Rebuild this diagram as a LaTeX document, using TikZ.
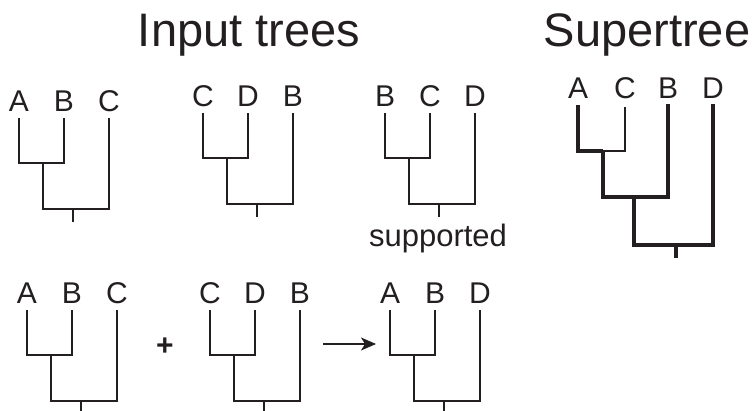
\documentclass[tikz,border=0pt]{standalone}
\usepackage{fontspec}
\setmainfont{Liberation Sans}
\usetikzlibrary{arrows.meta}
\definecolor{ink}{HTML}{231F20}

% A rooted three-taxon tree: #1 name, #2 left leaf x, #3 leaf top y, #4-#6 leaf labels
\newcommand\threetree[6]{%
  \coordinate (#1-l1) at (#2,#3);
  \coordinate (#1-l2) at ({#2+45},#3);
  \coordinate (#1-l3) at ({#2+90},#3);
  \coordinate (#1-n1) at ({#2+24},{#3+45});
  \coordinate (#1-n0) at ({#2+54},{#3+91});
  \coordinate (#1-rt) at ({#2+54},{#3+104});
  \node[taxon] (#1-t1) at (#2,{#3-6}) {#4};
  \node[taxon] (#1-t2) at ({#2+45},{#3-6}) {#5};
  \node[taxon] (#1-t3) at ({#2+90},{#3-6}) {#6};
  \draw[branch] (#1-l1) |- (#1-n1) -| (#1-l2);
  \draw[branch] (#1-n1) |- (#1-n0) -| (#1-l3);
  \draw[branch] (#1-n0) -- (#1-rt);
}

\begin{document}
\begin{tikzpicture}[x=1pt,y=-1pt,
  branch/.style={draw=ink,line width=2pt,line join=miter},
  heavy/.style={draw=ink,line width=4.2pt,line join=miter},
  taxon/.style={anchor=base,inner sep=0pt,text=ink,font=\fontsize{30}{36}\selectfont},
  title/.style={anchor=base,inner sep=0pt,text=ink,font=\fontsize{47}{56}\selectfont},
  caption/.style={anchor=base,inner sep=0pt,text=ink,font=\fontsize{31}{37}\selectfont}]
\useasboundingbox (0,0) rectangle (754,411);

% headings
\node[title] (intitle) at (249,47) {Input trees};
\node[title] (suptitle) at (647,47) {Supertree};

% input trees
\threetree{ta}{19}{118}{A}{B}{C}
\threetree{tb}{203}{113}{C}{D}{B}
\threetree{tc}{385}{113}{B}{C}{D}
\node[caption] (supp) at (438,247) {supported};

% combining two inputs
\threetree{ba}{27}{310}{A}{B}{C}
\node[text=ink,inner sep=0pt,font=\fontsize{30}{36}\selectfont\bfseries] (plus) at (165,347) {+};
\threetree{bb}{210}{310}{C}{D}{B}
\coordinate (arrs) at (323,344);
\coordinate (arre) at (376,344);
\draw[ink,line width=1.6pt,-{Stealth[length=15pt,width=13pt,inset=4pt]}] (arrs) -- (arre);
\threetree{bc}{390}{310}{A}{B}{D}

% supertree
\coordinate (sA) at (578,105);
\coordinate (sC) at (625,107);
\coordinate (sB) at (668,104);
\coordinate (sD) at (713,104);
\coordinate (s1) at (603,151);
\coordinate (s2) at (634,197);
\coordinate (s3) at (676,245);
\coordinate (sr) at (676,258);
\node[taxon] (sAt) at (578,99) {A};
\node[taxon] (sCt) at (625,99) {C};
\node[taxon] (sBt) at (668,99) {B};
\node[taxon] (sDt) at (713,99) {D};
\draw[heavy] (sA) |- (s1);
\draw[draw=ink,line width=1.6pt,line join=miter] (s1) -| (sC);
\draw[heavy] (s1) |- (s2) -| (sB);
\draw[heavy] (s2) |- (s3) -| (sD);
\draw[heavy] (s3) -- (sr);
\end{tikzpicture}
\end{document}
